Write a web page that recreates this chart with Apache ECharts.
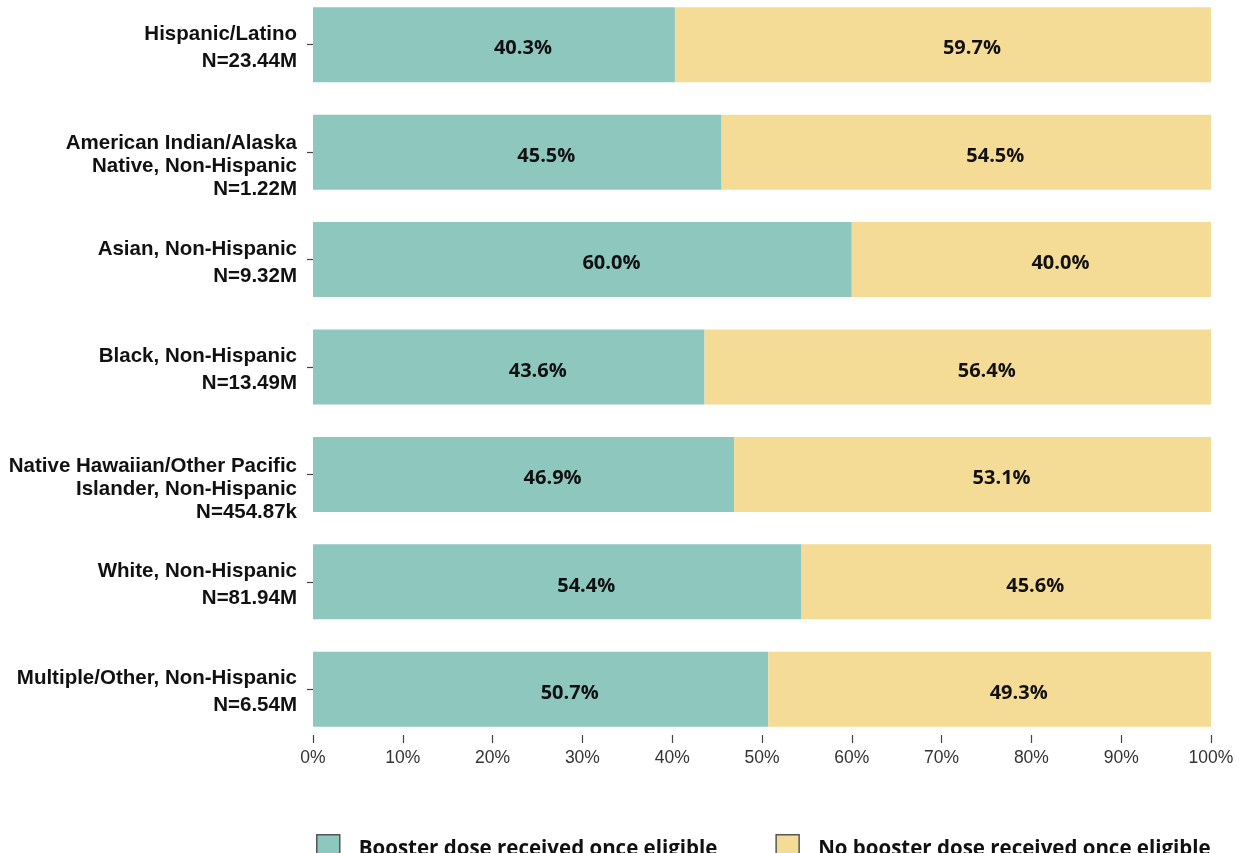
<!DOCTYPE html>
<html>
<head>
<meta charset="utf-8">
<script src="https://cdn.jsdelivr.net/npm/echarts@6/dist/echarts.min.js"></script>
<style>
  html, body { margin: 0; padding: 0; background: #fff; }
  #chart { width: 1239px; height: 853px; }
</style>
</head>
<body>
<div id="chart"></div>
<script>
// categories, top to bottom
const categories = [
  'Hispanic/Latino\nN=23.44M',
  'American Indian/Alaska\nNative, Non-Hispanic\nN=1.22M',
  'Asian, Non-Hispanic\nN=9.32M',
  'Black, Non-Hispanic\nN=13.49M',
  'Native Hawaiian/Other Pacific\nIslander, Non-Hispanic\nN=454.87k',
  'White, Non-Hispanic\nN=81.94M',
  'Multiple/Other, Non-Hispanic\nN=6.54M'
]
const boosterReceived = [40.3, 45.5, 60.0, 43.6, 46.9, 54.4, 50.7]
const noBooster = [59.7, 54.5, 40.0, 56.4, 53.1, 45.6, 49.3]
const seriesNames = ['Booster dose received once eligible', 'No booster dose received once eligible']

const chart = echarts.init(document.getElementById('chart'))

// labels sit a bit right of the segment centre in the original
const barLabel = {
  show: true,
  position: 'inside',
  offset: [29, 4],
  color: '#111',
  fontFamily: 'Open Sans',
  fontWeight: 'bold',
  fontSize: 20,
  formatter: p => p.value.toFixed(1) + '%'
}

// 2-line labels are centred with wider spacing, 3-line ones sit a line lower
const formatCategory = value => {
  const lines = value.split('\n')
  if (lines.length === 2) return lines.map(l => '{t2|' + l + '}').join('\n')
  return ['{t3| }'].concat(lines.map(l => '{t3|' + l + '}')).join('\n')
}

const labelFont = {
  color: '#111',
  fontFamily: 'Liberation Sans',
  fontWeight: 'bold',
  fontSize: 20.5
}

chart.setOption({
  animation: false,
  grid: {
    left: 313,
    right: 28,
    top: -9,
    height: 752,
    containLabel: false,
    outerBoundsMode: 'none'
  },
  legend: {
    data: seriesNames,
    left: 311,
    top: 829,
    itemWidth: 23,
    itemHeight: 28,
    itemGap: 58,
    icon: 'rect',
    itemStyle: { borderColor: '#555', borderWidth: 1.5 },
    textStyle: {
      fontFamily: 'Open Sans',
      fontWeight: 'bold',
      fontSize: 20.5,
      color: '#111',
      padding: [0, 0, 0, 14]
    }
  },
  xAxis: {
    type: 'value',
    min: 0,
    max: 100,
    interval: 10,
    axisLine: { show: false },
    axisTick: { show: true, inside: true, length: 8, lineStyle: { color: '#444', width: 1.2 } },
    splitLine: { show: false },
    axisLabel: {
      formatter: '{value}%',
      margin: 6,
      color: '#333',
      fontFamily: 'Liberation Sans',
      fontSize: 17.5
    }
  },
  yAxis: {
    type: 'category',
    data: categories,
    inverse: true,
    offset: 3,
    axisLine: { show: false },
    axisTick: { show: true, alignWithLabel: true, length: 6, lineStyle: { color: '#444', width: 1.2 } },
    axisLabel: Object.assign({
      margin: 13,
      lineHeight: 23,
      align: 'right',
      padding: [6, 0, 0, 0],
      formatter: formatCategory,
      rich: {
        t2: Object.assign({ lineHeight: 27, align: 'right' }, labelFont),
        t3: Object.assign({ lineHeight: 23, align: 'right' }, labelFont)
      }
    }, labelFont)
  },
  series: [
    {
      name: seriesNames[0],
      type: 'bar',
      stack: 'total',
      barWidth: 75,
      itemStyle: { color: '#8dc7be' },
      label: barLabel,
      data: boosterReceived
    },
    {
      name: seriesNames[1],
      type: 'bar',
      stack: 'total',
      barWidth: 75,
      itemStyle: { color: '#f5dc96' },
      label: barLabel,
      data: noBooster
    }
  ]
})
</script>
</body>
</html>
